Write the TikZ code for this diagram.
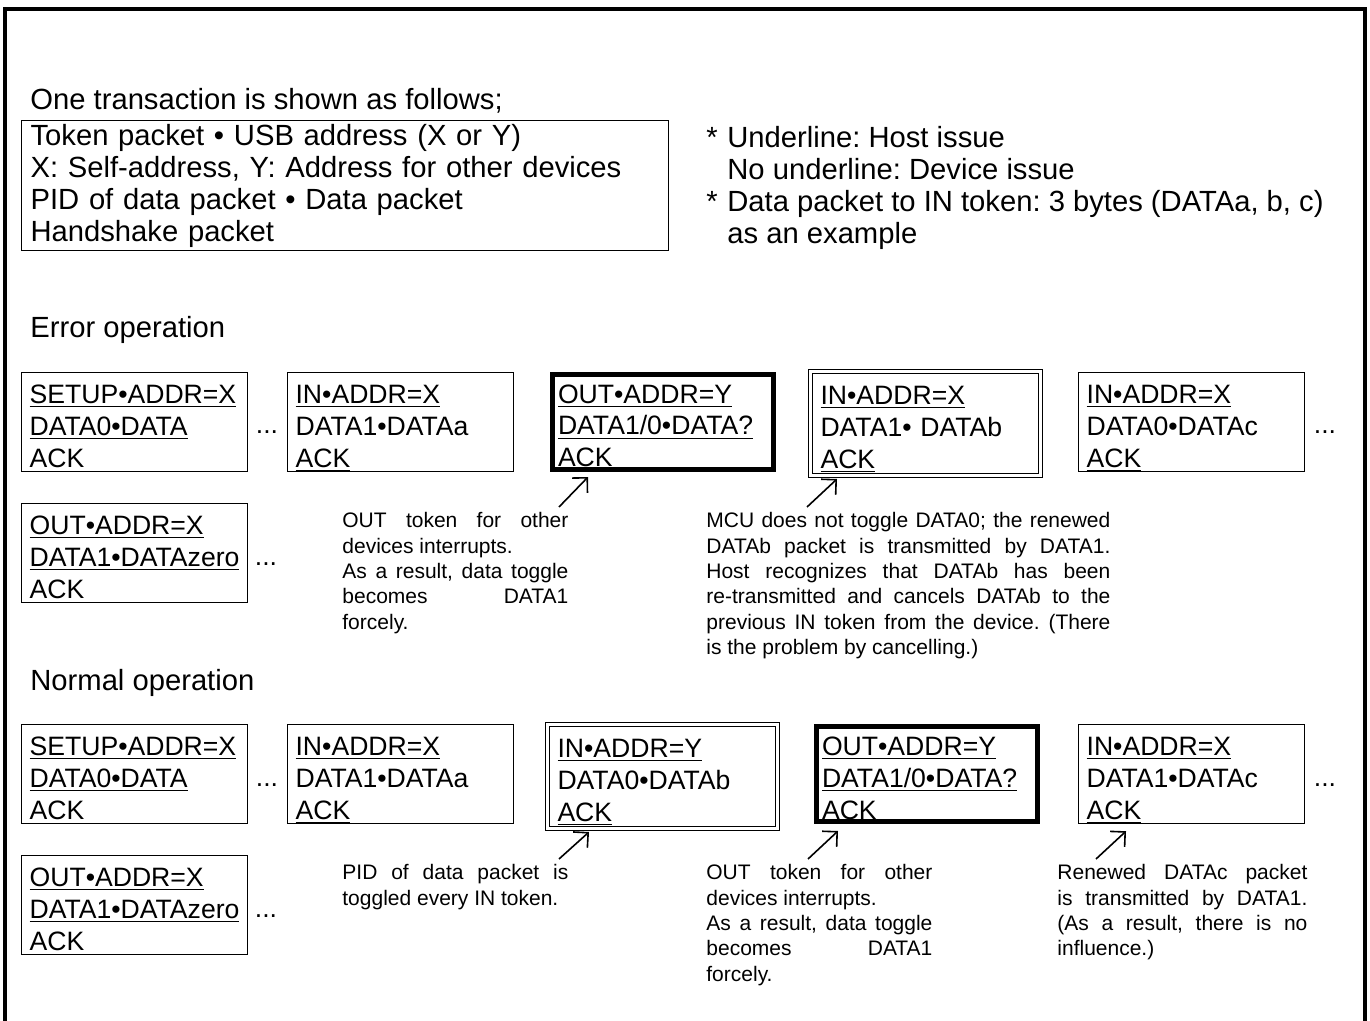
\documentclass[tikz,border=0pt]{standalone}
\usepackage{fontspec}
\setmainfont{Liberation Sans}
\usetikzlibrary{arrows.meta}
\newcommand{\hst}[1]{\raisebox{0pt}[\height][0pt]{\underline{#1}}}
\frenchspacing
\begin{document}
\begin{tikzpicture}[x=.5pt, y=-.5pt, >={Straight Barb[length=5.3pt,width=10.6pt]},
    heading/.style={inner sep=0pt, font=\fontsize{14.6}{16}\selectfont},
    pkt/.style={draw, line width=.6pt, anchor=north west, inner sep=0pt,
        minimum width=113pt, minimum height=49.5pt, text width=105pt, align=left,
        text height=13pt, text depth=32pt, font=\fontsize{13.3}{16}\selectfont},
    pktout/.style={pkt, line width=2.5pt, minimum width=110.5pt, minimum height=47.5pt},
    pktin/.style={pkt, line width=.5pt, double, double distance=1.25pt,
        minimum width=115pt, minimum height=52pt},
    remark/.style={anchor=north west, inner sep=0pt, align=justify,
        font=\fontsize{10.5}{12.7}\selectfont},
    skipdots/.style={anchor=base, font=\fontsize{13.3}{16}\selectfont}]
\useasboundingbox (0,0) rectangle (1370,1021);
\draw[line width=2pt] (4.5,1021) -- (4.5,9) -- (1364.5,9) -- (1364.5,1021);

\node[heading, anchor=base west] (intro) at (30,110) {One transaction is shown as follows;};
\node[heading, draw, line width=.6pt, anchor=north west, minimum width=323.5pt,
    minimum height=65pt, text width=314.5pt, align=left] (key) at (21,120)
    {Token packet • USB address (X or Y)\\ X: Self-address, Y: Address for other devices\\
     PID of data packet • Data packet\\ Handshake packet};
\node[heading, anchor=north west, align=left] (marks) at (706,126)
    {\makebox[10.5pt][l]{*}Underline: Host issue\\ \hspace*{10.5pt}No underline: Device issue\\
     \makebox[10.5pt][l]{*}Data packet to IN token: 3 bytes (DATAa, b, c)\\ \hspace*{10.5pt}as an example};

\node[heading, anchor=base west] (err) at (30,338) {Error operation};
\node[pkt] (e1) at (21,372) {\hst{SETUP•ADDR=X}\\ \hst{DATA0•DATA}\\ ACK};
\node[pkt] (e2) at (287,372) {\hst{IN•ADDR=X}\\ DATA1•DATAa\\ \hst{ACK}};
\node[pktout] (e3) at (550,372) {\hst{OUT•ADDR=Y}\\ \hst{DATA1/0•DATA?}\\ ACK};
\node[pktin] (e4) at (810,371) {\hst{IN•ADDR=X}\\ DATA1• DATAb\\ \hst{ACK}};
\node[pkt] (e5) at (1078,372) {\hst{IN•ADDR=X}\\ DATA0•DATAc\\ \hst{ACK}};
\node[pkt] (e6) at (21,503) {\hst{OUT•ADDR=X}\\ \hst{DATA1•DATAzero}\\ ACK};

\node[remark, text width=113pt] (ne1) at (342,512) {OUT token for other\linebreak
    devices interrupts.\\ As a result, data toggle\linebreak becomes DATA1\linebreak forcely.};
\node[remark, text width=202pt] (ne2) at (706,512) {MCU does not toggle DATA0; the renewed\linebreak
    DATAb packet is transmitted by DATA1.\linebreak Host recognizes that DATAb has been\linebreak
    re-transmitted and cancels DATAb to the\linebreak previous IN token from the device. (There\linebreak
    is the problem by cancelling.)};
\draw[->, line width=.8pt] ([shift={(217,-5)}]ne1.north west) -- ([shift={(38,5)}]e3.south west);
\draw[->, line width=.8pt] ([shift={(101,-5)}]ne2.north west) -- ([shift={(27,3)}]e4.south west);

\node[heading, anchor=base west] (nor) at (30,690) {Normal operation};
\node[pkt] (n1) at (21,724) {\hst{SETUP•ADDR=X}\\ \hst{DATA0•DATA}\\ ACK};
\node[pkt] (n2) at (287,724) {\hst{IN•ADDR=X}\\ DATA1•DATAa\\ \hst{ACK}};
\node[pktin] (n3) at (547,724) {\hst{IN•ADDR=Y}\\ DATA0•DATAb\\ \hst{ACK}};
\node[pktout] (n4) at (814,724) {\hst{OUT•ADDR=Y}\\ \hst{DATA1/0•DATA?}\\ ACK};
\node[pkt] (n5) at (1078,724) {\hst{IN•ADDR=X}\\ DATA1•DATAc\\ \hst{ACK}};
\node[pkt] (n6) at (21,855) {\hst{OUT•ADDR=X}\\ \hst{DATA1•DATAzero}\\ ACK};

\node[remark, text width=113pt] (nn1) at (342,864) {PID of data packet is\linebreak toggled every IN token.};
\node[remark, text width=113pt] (nn2) at (706,864) {OUT token for other\linebreak
    devices interrupts.\\ As a result, data toggle\linebreak becomes DATA1\linebreak forcely.};
\node[remark, text width=125pt] (nn3) at (1057,864) {Renewed DATAc packet\linebreak
    is transmitted by DATA1.\linebreak (As a result, there is no\linebreak influence.)};
\draw[->, line width=.8pt] ([shift={(217,-5)}]nn1.north west) -- ([shift={(42,3)}]n3.south west);
\draw[->, line width=.8pt] ([shift={(102,-5)}]nn2.north west) -- ([shift={(24,7)}]n4.south west);
\draw[->, line width=.8pt] ([shift={(39,-5)}]nn3.north west) -- ([shift={(48,7)}]n5.south west);

\foreach \x/\y [count=\i] in {267/434, 1325/434, 266/565, 267/786, 1325/786, 266/917}
    \node[skipdots] (dot\i) at (\x,\y) {...};
\end{tikzpicture}
\end{document}
